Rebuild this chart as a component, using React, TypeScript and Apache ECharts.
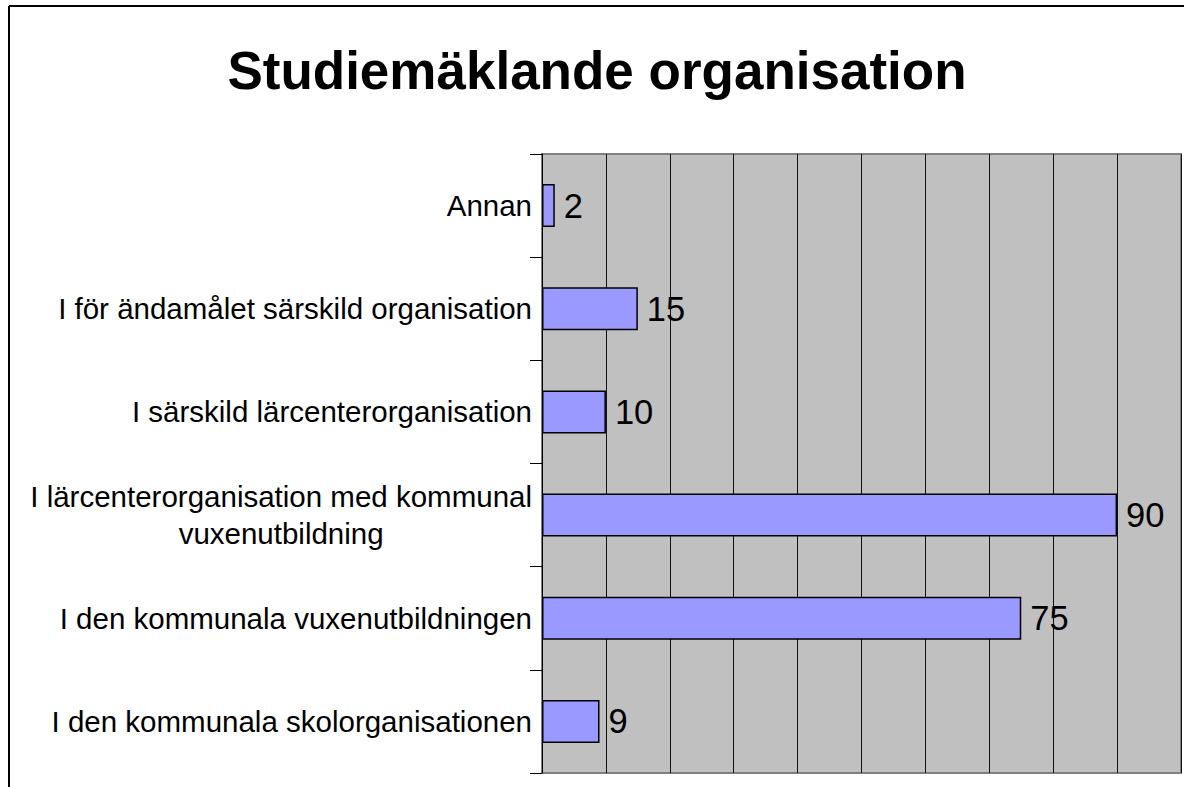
import React, { useEffect, useRef } from "react";
import * as echarts from "echarts";

const TITLE = "Studiemäklande organisation";
const categories = [
  "I den kommunala skolorganisationen",
  "I den kommunala vuxenutbildningen",
  "I lärcenterorganisation med kommunal\nvuxenutbildning",
  "I särskild lärcenterorganisation",
  "I för ändamålet särskild organisation",
  "Annan",
];
const values = [9, 75, 90, 10, 15, 2];
const xMin = 0;
const xMax = 100;
const xInterval = 10;

const FONT = "'Liberation Sans', Arial, Helvetica, sans-serif";

export default function App() {
  const ref = useRef<HTMLDivElement>(null);
  useEffect(() => {
    if (!ref.current) return;
    const chart = echarts.init(ref.current, null, { renderer: "svg" });
    chart.setOption({
      animation: false,
      backgroundColor: "#ffffff",
      title: {
        text: TITLE,
        left: "center",
        top: 39,
        textStyle: { fontSize: 53, fontWeight: "bold", color: "#000", fontFamily: FONT },
      },
      graphic: [
        { type: "line", shape: { x1: 9, y1: 6, x2: 1184, y2: 6 }, style: { stroke: "#000", lineWidth: 2 } },
        { type: "line", shape: { x1: 9, y1: 6, x2: 9, y2: 787 }, style: { stroke: "#000", lineWidth: 2 } },
      ],
      grid: {
        left: 542,
        right: 13,
        top: 154,
        bottom: 14,
        show: true,
        backgroundColor: "#C0C0C0",
        borderColor: "#808080",
        borderWidth: 2,
      },
      xAxis: {
        type: "value",
        min: xMin,
        max: xMax,
        interval: xInterval,
        axisLabel: { show: false },
        axisLine: { show: false },
        axisTick: { show: false },
        splitLine: { show: true, lineStyle: { color: "#111", width: 1 } },
      },
      yAxis: {
        type: "category",
        data: categories,
        axisLine: { show: true, lineStyle: { color: "#000", width: 1 } },
        axisTick: { show: true, length: 12, lineStyle: { color: "#000", width: 1 } },
        axisLabel: {
          margin: 10,
          color: "#000",
          fontSize: 29.5,
          fontFamily: FONT,
          lineHeight: 37,
          formatter: (v: string) =>
            v
              .split("\n")
              .map((s) => `{c|${s}}`)
              .join("\n"),
          rich: {
            c: { align: "center", fontSize: 29.5, fontFamily: FONT, color: "#000", lineHeight: 37 },
          },
        },
        splitLine: { show: false },
      },
      series: [
        {
          type: "bar",
          data: values,
          barWidth: 43,
          itemStyle: { color: "#9999FF", borderColor: "#000", borderWidth: 1.5 },
          label: {
            show: true,
            position: "right",
            distance: 9,
            color: "#000",
            fontSize: 34.5,
            fontFamily: FONT,
          },
        },
      ],
    });
    return () => chart.dispose();
  }, []);
  return (
    <div
      ref={ref}
      style={{ position: "fixed", left: 0, top: 0, width: 1194, height: 787 }}
    />
  );
}
